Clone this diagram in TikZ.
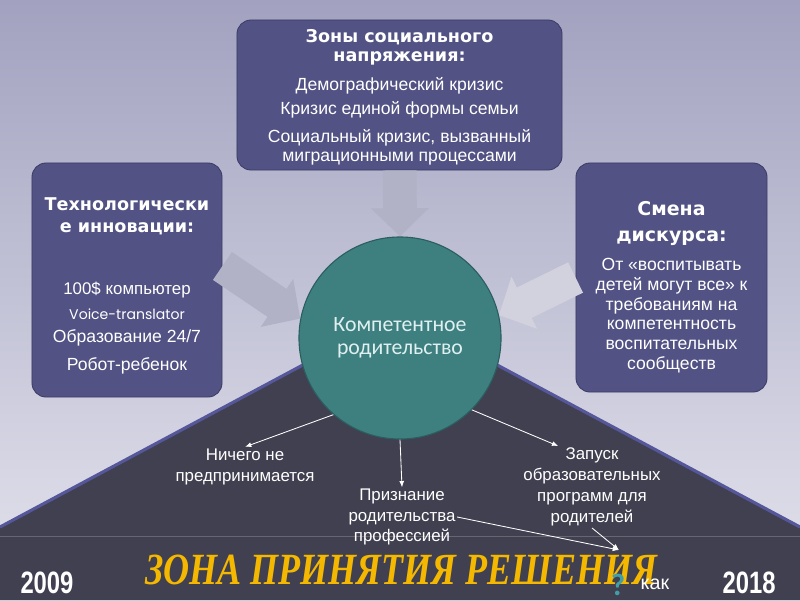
\documentclass[tikz,border=0pt]{standalone}
\usepackage{fontspec}
\usepackage{graphicx}
\setmainfont{Liberation Sans}
\newfontfamily\headfont{DejaVu Sans}
\newfontfamily\corefont{Carlito}
\newfontfamily\geofont{Poppins}
\newfontfamily\titlefont{Liberation Serif}
\usepackage{xcolor}
\usepackage{tikz}
\usetikzlibrary{arrows.meta}
\definecolor{bgtop}{HTML}{A2A2C0}
\definecolor{bgbot}{HTML}{E4E4EE}
\definecolor{boxfill}{HTML}{525284}
\definecolor{boxedge}{HTML}{3C3C68}
\definecolor{corefill}{HTML}{3E8080}
\definecolor{coreedge}{HTML}{2C5E60}
\definecolor{darkzone}{HTML}{404050}
\definecolor{zoneedge}{HTML}{56569A}
\definecolor{fatgray}{HTML}{B2B2C6}
\definecolor{fatlight}{HTML}{D2D2DF}
\definecolor{gold}{HTML}{F5B800}
\definecolor{askteal}{HTML}{3FA0A8}
\newcommand{\boxhead}[1]{{\headfont\bfseries #1}}

\begin{document}
\begin{tikzpicture}[x=0.025cm,y=-0.025cm,>={Latex[length=4.5pt,width=3.5pt]},
  box/.style={draw=boxedge,fill=boxfill,rounded corners=10pt,line width=0.6pt,text=white,align=center,inner sep=0pt},
  fat/.style={line width=24pt,draw=fatgray,-{Triangle[width=40pt,length=20pt]}},
  link/.style={draw=white,line width=0.6pt,->},
  lbl/.style={text=white,align=center,inner sep=1pt}]
  \useasboundingbox (0,0) rectangle (800,600);
  \shade[top color=bgtop,bottom color=bgbot] (0,0) rectangle (800,600);
  \fill[darkzone] (0,527) -- (400,313) -- (800,527) -- (800,600) -- (0,600) -- cycle;
  \draw[zoneedge,line width=2.2pt] (0,527) -- (400,313) -- (800,527);
  \draw[darkzone!80!white,line width=0.7pt] (0,536) -- (800,536);

  \node[box,minimum width=8.125cm,minimum height=3.75cm,font=\fontsize{12.5}{13.5}\selectfont] (zones) at (399.5,95)
    {\rule{0pt}{13pt}\boxhead{Зоны социального}\\
     \boxhead{напряжения:}\\[7pt]
     Демографический кризис\\[3.5pt]
     Кризис единой формы семьи\\[6.5pt]
     Социальный кризис, вызванный\\
     миграционными процессами};
  \node[box,minimum width=4.75cm,minimum height=5.85cm,font=\fontsize{12.5}{16}\selectfont] (tech) at (127,280)
    {\rule{0pt}{17.5pt}\boxhead{Технологически}\\
     \boxhead{е инновации:}\\[28pt]
     {\fontsize{12}{16}\selectfont 100\$ компьютер}\\[1.5pt]
     {\geofont\fontsize{10}{16}\selectfont Voice-translator}\\[0.5pt]
     Образование 24/7\\[4pt]
     Робот-ребенок};
  \node[box,minimum width=4.775cm,minimum height=5.725cm,font=\fontsize{12.5}{14.2}\selectfont] (disc) at (671.5,277.5)
    {\rule{0pt}{24pt}{\headfont\bfseries\fontsize{13.5}{14}\selectfont Смена}\\[4.5pt]
     {\headfont\bfseries\fontsize{13.5}{14}\selectfont дискурса:}\\[6pt]
     От «воспитывать\\
     детей могут все» к\\
     требованиям на\\
     компетентность\\
     воспитательных\\
     сообществ};

  \node[circle,draw=coreedge,line width=0.8pt,fill=corefill,minimum size=5.05cm,inner sep=0pt,
        align=center,text=white!88!teal,font=\corefont\fontsize{15.5}{16.5}\selectfont] (core) at (400,338)
    {Компетентное\\родительство};

  \draw[fat] (zones) -- (core.north);
  \draw[fat] ([yshift=10pt]tech.east) -- (core.169);
  \draw[fat,draw=fatlight] (disc.west) -- (core.13);

  \node[lbl,font=\fontsize{12}{15.5}\selectfont] (nothing) at (245,467) {Ничего не\\предпринимается};
  \node[lbl,font=\fontsize{12}{14.5}\selectfont] (recog) at (402,517) {Признание\\родительства\\профессией};
  \node[lbl,font=\fontsize{12}{15}\selectfont] (launch) at (592,487) {Запуск\\образовательных\\программ для\\родителей};

  \node[text=gold] (title) at (401,570)
    {\resizebox{364pt}{21pt}{\titlefont\bfseries\itshape ЗОНА ПРИНЯТИЯ РЕШЕНИЯ}};
  \node[text=white] (start) at (47,583) {\scalebox{0.77}[1]{\fontsize{22}{22}\selectfont\bfseries 2009}};
  \node[text=white] (finish) at (749,583) {\scalebox{0.77}[1]{\fontsize{22}{22}\selectfont\bfseries 2018}};
  \node[text=askteal,font=\corefont\bfseries\fontsize{22}{22}\selectfont] (ask) at (618,585) {?};
  \node[text=white,font=\fontsize{14}{14}\selectfont] (how) at (655,584) {как};
  \coordinate (hub) at (619,550);

  \draw[link] (core.229) -- (nothing.north);
  \draw[link] (core.south) -- (recog.north);
  \draw[link] (core.-45) -- ([xshift=-24pt]launch.north);
  \draw[link] (recog.east) -- (hub);
  \draw[link] (launch.south) -- (hub);
\end{tikzpicture}
\end{document}
